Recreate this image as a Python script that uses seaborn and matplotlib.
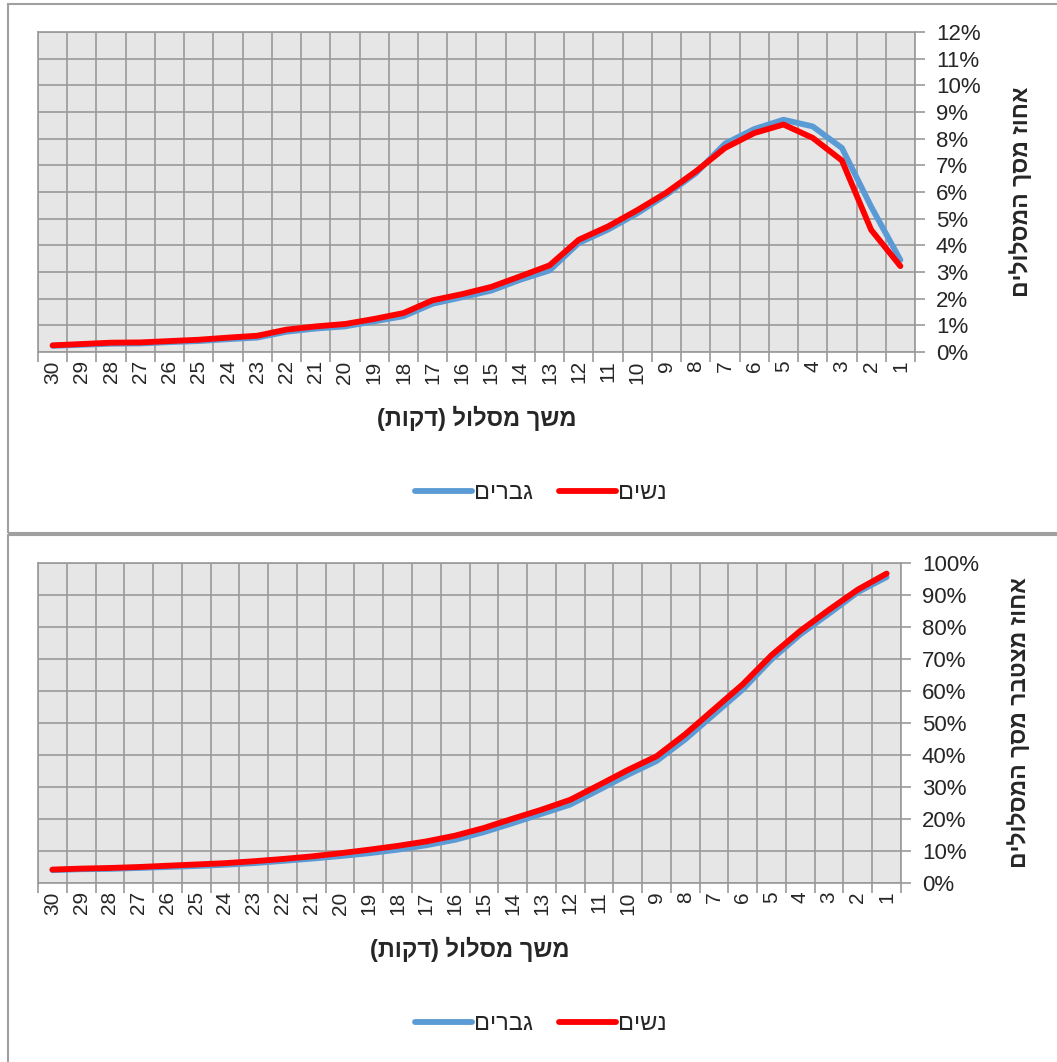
import numpy as np
import pandas as pd
import matplotlib
matplotlib.use("Agg")
import matplotlib.pyplot as plt
from matplotlib.lines import Line2D
from matplotlib.patches import Rectangle
from matplotlib.ticker import PercentFormatter, FixedLocator, MultipleLocator
import seaborn as sns

# ---------------- data ----------------
minutes = list(range(30, 0, -1))          # route duration (minutes), 30 ... 1
series_names = ["גברים", "נשים"]          # men, women

share_men = [0.23, 0.27, 0.31, 0.32, 0.37, 0.41, 0.48, 0.54, 0.76, 0.88,
             0.96, 1.15, 1.34, 1.81, 2.05, 2.30, 2.71, 3.06, 4.09, 4.59,
             5.20, 5.90, 6.70, 7.81, 8.36, 8.71, 8.46, 7.65, 5.45, 3.45]
share_women = [0.25, 0.30, 0.35, 0.36, 0.41, 0.46, 0.54, 0.61, 0.84, 0.96,
               1.05, 1.24, 1.46, 1.94, 2.17, 2.44, 2.84, 3.25, 4.21, 4.71,
               5.32, 5.98, 6.77, 7.65, 8.21, 8.53, 8.03, 7.18, 4.58, 3.22]

cum_men = [4.0, 4.3, 4.4, 4.7, 5.0, 5.3, 5.7, 6.2, 6.9, 7.6,
           8.4, 9.3, 10.4, 11.8, 13.5, 15.9, 18.7, 21.6, 24.5, 29.1,
           33.8, 38.1, 44.9, 52.7, 60.5, 69.9, 77.7, 84.2, 90.9, 95.6]
cum_women = [4.2, 4.5, 4.7, 5.0, 5.4, 5.8, 6.2, 6.8, 7.5, 8.3,
             9.3, 10.4, 11.6, 13.0, 14.8, 17.2, 20.1, 22.9, 26.0, 30.6,
             35.3, 39.6, 46.5, 54.3, 62.1, 71.2, 78.8, 85.4, 91.7, 96.7]

x_title = "משך מסלול (דקות)"
y_title_top = "אחוז מסך המסלולים"
y_title_bottom = "אחוז מצטבר מסך המסלולים"

colors = {series_names[0]: "#5B9BD5", series_names[1]: "#FF0000"}


def vis(s):
    """matplotlib has no bidi support: put RTL text into visual order."""
    return s[::-1].translate(str.maketrans("()", ")("))


# ---------------- style ----------------
sns.set_style("white")
plt.rcParams["font.family"] = ["Liberation Sans", "DejaVu Sans"]

W, H = 1057, 1062
fig = plt.figure(figsize=(W / 100, H / 100), dpi=100)

GRID = "#9A9A9A"


def panel(rect, men, women, ymax, ystep, ylabel, legend_y):
    ax = fig.add_axes(rect)
    df = pd.DataFrame({
        "minutes": minutes * 2,
        "value": men + women,
        "sex": [series_names[0]] * len(minutes) + [series_names[1]] * len(minutes),
    })
    sns.lineplot(data=df, x="minutes", y="value", hue="sex",
                 hue_order=series_names, palette=colors, linewidth=4.2,
                 sort=False, legend=False, ax=ax,
                 solid_capstyle="round", solid_joinstyle="round")
    ax.set_facecolor("#E6E6E6")
    ax.set_xlim(30.5, 0.5)
    ax.set_ylim(0, ymax)

    # x axis: labels at category centres, tick marks / grid at boundaries
    ax.xaxis.set_major_locator(FixedLocator(minutes))
    ax.set_xticklabels([str(m) for m in minutes], rotation=90)
    ax.xaxis.set_minor_locator(FixedLocator(np.arange(0.5, 31, 1.0)))
    ax.tick_params(axis="x", which="major", length=0, pad=6, labelsize=15)
    ax.tick_params(axis="x", which="minor", length=7, width=1.2, color=GRID,
                   direction="out", bottom=True)
    ax.grid(which="minor", axis="x", color=GRID, linewidth=1.2)
    ax.grid(which="major", axis="x", visible=False)

    # y axis on the right
    ax.yaxis.tick_right()
    ax.yaxis.set_label_position("right")
    ax.yaxis.set_major_locator(MultipleLocator(ystep))
    ax.yaxis.set_major_formatter(PercentFormatter(decimals=0))
    ax.tick_params(axis="y", which="major", length=7, width=1.2, color=GRID,
                   direction="out", labelsize=16, pad=8, right=True, left=False)
    ax.grid(which="major", axis="y", color=GRID, linewidth=1.2)

    for sp in ax.spines.values():
        sp.set_color(GRID)
        sp.set_linewidth(1.2)

    ax.set_xlabel(vis(x_title), fontsize=17, fontweight="bold", labelpad=16)
    ax.set_ylabel(vis(ylabel), fontsize=16.5, fontweight="bold", rotation=90,
                  labelpad=21)

    handles = [Line2D([], [], color=colors[n], linewidth=4.2,
                      solid_capstyle="round") for n in series_names]
    fig.legend(handles, [vis(n) for n in series_names], loc="center",
               bbox_to_anchor=(541 / W, 1 - legend_y / H), ncol=2,
               frameon=False, fontsize=17, handlelength=2.4,
               handletextpad=0.1, columnspacing=1.1)
    return ax


# top panel: distribution
panel([38 / W, 1 - 352 / H, 877 / W, 320 / H], share_men, share_women,
      12, 1, y_title_top, 493)
# bottom panel: cumulative distribution
panel([38 / W, 1 - 883 / H, 863 / W, 320 / H], cum_men, cum_women,
      100, 10, y_title_bottom, 1024)

# outer chart frames
fig.add_artist(Rectangle((8 / W, 1 - 533 / H), 1.0, (533 - 4) / H,
                         transform=fig.transFigure, fill=False,
                         edgecolor="#A0A0A0", linewidth=1.5))
fig.add_artist(Rectangle((8 / W, -0.05), 1.0, 1 - 535 / H + 0.05,
                         transform=fig.transFigure, fill=False,
                         edgecolor="#A0A0A0", linewidth=1.5))

fig.savefig("out.png", dpi=100)
